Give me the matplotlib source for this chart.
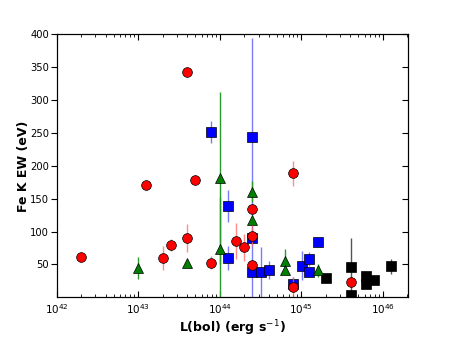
import matplotlib
matplotlib.use("Agg")
import matplotlib.pyplot as plt
import numpy as np

# Red circles
red_L = [2.0e42, 1.26e43, 2.0e43, 2.5e43, 4.0e43, 4.0e43, 5.0e43, 7.9e43,
         1.6e44, 2.0e44, 2.5e44, 2.5e44, 2.5e44, 7.9e44, 7.9e44, 4.1e45]
red_EW = [62, 171, 60, 80, 343, 90, 179, 53,
          86, 76, 134, 94, 49, 189, 16, 24]
red_err = [0, 0, 18, 9, 0, 21, 0, 10,
           27, 21, 0, 16, 8, 19, 15, 0]

# Blue squares
blue_L = [7.9e43, 1.28e44, 1.28e44, 2.5e44, 2.5e44, 2.5e44, 3.2e44, 4.0e44,
          7.9e44, 1.02e45, 1.26e45, 1.26e45, 1.6e45]
blue_EW = [252, 139, 60, 244, 91, 39, 39, 42,
           21, 48, 58, 38, 84]
blue_err = [17, 25, 18, 150, 0, 55, 38, 14,
            10, 22, 11, 0, 8]

# Green triangles
green_L = [1.0e43, 4.0e43, 1.0e44, 1.0e44, 2.5e44, 2.5e44, 6.3e44, 6.3e44, 1.6e45]
green_EW = [45, 52, 181, 74, 161, 117, 56, 41, 41]
green_err = [17, 0, 131, 78, 16, 0, 18, 0, 10]

# Black squares
black_L = [2.0e45, 4.1e45, 4.1e45, 6.3e45, 6.3e45, 7.9e45, 1.26e46]
black_EW = [29, 46, 4, 33, 21, 26, 47]
black_err = [0, 44, 0, 0, 0, 0, 12]

xticks = [1e42, 1e43, 1e44, 1e45, 1e46]
xticklabels = [r"$10^{42}$", r"$10^{43}$", r"$10^{44}$", r"$10^{45}$", r"$10^{46}$"]
yticks = [50, 100, 150, 200, 250, 300, 350, 400]

plt.rcParams.update({
    "font.family": "DejaVu Sans",
    "xtick.major.size": 4,
    "ytick.major.size": 4,
    "xtick.minor.size": 2,
    "ytick.minor.size": 2,
})

fig = plt.figure(figsize=(4.54, 3.41), dpi=100, facecolor="white")
ax = fig.add_axes([0.1245, 0.128, 0.7745, 0.771])

def draw(L, EW, err, marker, color, ecolor, ms, z):
    ax.errorbar(L, EW, yerr=err, fmt="none", ecolor=ecolor, elinewidth=1.0,
                capsize=0, zorder=z)
    ax.plot(L, EW, linestyle="none", marker=marker, markersize=ms,
            markerfacecolor=color, markeredgecolor="black", markeredgewidth=0.5,
            zorder=z + 0.5)

draw(black_L, black_EW, black_err, "s", "black", "#555555", 6.5, 2)
draw(blue_L, blue_EW, blue_err, "s", "blue", (0.3, 0.3, 1.0, 0.75), 6.5, 3)
draw(green_L, green_EW, green_err, "^", "green", "#2a9a2a", 6.5, 4)
draw(red_L, red_EW, red_err, "o", "red", (1.0, 0.4, 0.4, 0.75), 7, 5)

ax.set_xscale("log")
ax.set_xlim(1e42, 2.05e46)
ax.set_ylim(0, 400)
ax.set_xticks(xticks)
ax.set_xticklabels(xticklabels)
ax.set_yticks(yticks)
ax.tick_params(axis="x", which="both", direction="in", top=True, labelsize=7.5)
ax.tick_params(axis="y", which="both", direction="out", right=False, labelsize=7.2,
               pad=1.5)
ax.set_xlabel(r"L(bol) (erg s$^{-1}$)", fontsize=9, fontweight="bold", labelpad=2)
ax.set_ylabel("Fe K EW (eV)", fontsize=9, fontweight="bold", labelpad=0)

# inward ticks on the right side
axr = ax.twinx()
axr.set_ylim(0, 400)
axr.set_yticks(yticks)
axr.tick_params(axis="y", direction="in", labelright=False, right=True)

fig.savefig("out.png", dpi=100, facecolor="white")
